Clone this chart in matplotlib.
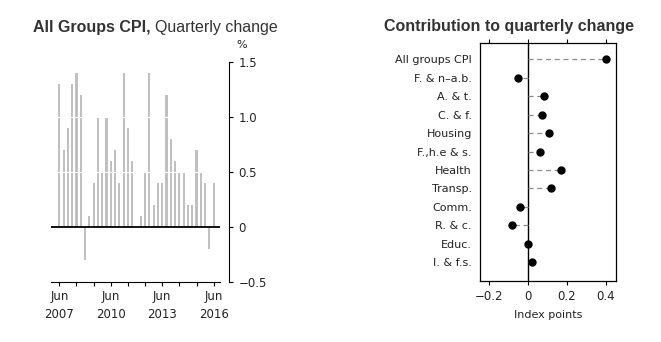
import matplotlib
matplotlib.use("Agg")
import matplotlib.pyplot as plt

# quarterly change in All Groups CPI, Jun 2007 .. Jun 2016 (%)
cpi_change = [1.3, 0.7, 0.9, 1.3, 1.4, 1.2, -0.3, 0.1, 0.4, 1.0,
              0.5, 1.0, 0.6, 0.7, 0.4, 1.4, 0.9, 0.6, 0.0, 0.1,
              0.5, 1.4, 0.2, 0.4, 0.4, 1.2, 0.8, 0.6, 0.5, 0.5,
              0.2, 0.2, 0.7, 0.5, 0.4, -0.2, 0.4]
year_ticks = [0, 4, 8, 12, 16, 20, 24, 28, 32, 36]
year_labels = ['Jun\n2007', '', '', 'Jun\n2010', '', '', 'Jun\n2013', '', '', 'Jun\n2016']

# contribution to quarterly change (index points)
groups = ['All groups CPI', 'F. & n\u2013a.b.', 'A. & t.', 'C. & f.', 'Housing',
          'F.,h.e & s.', 'Health', 'Transp.', 'Comm.', 'R. & c.', 'Educ.', 'I. & f.s.']
contrib = [0.40, -0.05, 0.08, 0.07, 0.11, 0.06, 0.17, 0.12, -0.04, -0.08, 0.0, 0.02]

W, H = 661, 342
fig = plt.figure(figsize=(W / 100, H / 100), dpi=100)
txt = '#333333'
small = dict(family='DejaVu Sans', size=8, color='#222222')

# ---- left chart ----
ax = fig.add_axes([51 / W, 1 - 282 / H, 178 / W, 220 / H])
q = list(range(len(cpi_change)))
ax.bar(q, cpi_change, width=0.5, color='#c0c0c0', zorder=2)
ax.hlines([0.5, 1.0], -1.94, 37.5, color='white', lw=0.8, zorder=3)
ax.hlines(0, -1.94, 37.5, color='black', lw=1.3, zorder=4)
ax.set_xlim(-1.94, 39.57)
ax.set_ylim(-0.5, 1.5)
for s in ['left', 'top']:
    ax.spines[s].set_visible(False)
ax.spines['bottom'].set_bounds(-1.94, 37.5)
ax.spines['right'].set_bounds(-0.5, 1.5)
ax.yaxis.tick_right()
ax.set_yticks([-0.5, 0, 0.5, 1.0, 1.5])
ax.set_yticklabels(['\u22120.5', '0', '0.5', '1.0', '1.5'])
ax.set_xticks(year_ticks)
ax.set_xticklabels(year_labels, linespacing=1.45)
ax.tick_params(axis='y', direction='out', length=3, pad=4, width=0.8)
ax.tick_params(axis='x', direction='out', length=3, pad=3, width=0.8)
for lab in ax.get_xticklabels() + ax.get_yticklabels():
    lab.set_fontfamily('DejaVu Sans')
    lab.set_fontsize(8.5)
    lab.set_color('#222222')
fig.text(241.7 / W, 1 - 45 / H, '%', ha='center', va='center', **small)

# ---- right chart ----
ax2 = fig.add_axes([480.3 / W, 1 - 280.7 / H, 136 / W, 238 / H])
rows = list(range(len(groups)))
ax2.hlines(rows, 0, contrib, color='#8c8c8c', lw=0.9, linestyle=(0, (4, 3)), zorder=2)
ax2.axvline(0, color='black', lw=1, zorder=1)
ax2.plot(contrib, rows, 'o', color='black', ms=5, zorder=3)
ax2.set_xlim(-0.245, 0.453)
ax2.set_ylim(12.0, -0.9)
ax2.set_yticks(rows)
ax2.set_yticklabels(groups)
ax2.set_xticks([-0.2, 0, 0.2, 0.4])
ax2.set_xticklabels(['\u22120.2', '0', '0.2', '0.4'])
ax2.tick_params(axis='y', length=0, pad=6)
ax2.tick_params(axis='x', direction='out', length=3, pad=4, width=0.8, top=True)
for lab in ax2.get_yticklabels():
    lab.set_fontfamily('DejaVu Sans')
    lab.set_fontsize(8)
    lab.set_color('#222222')
for lab in ax2.get_xticklabels():
    lab.set_fontfamily('DejaVu Sans')
    lab.set_fontsize(8.5)
    lab.set_color('#222222')
ax2.set_xlabel('Index points', labelpad=5, **small)
for s in ax2.spines.values():
    s.set_linewidth(0.9)

# ---- titles ----
t1 = fig.text(33 / W, 1 - 31.7 / H, 'All Groups CPI,', ha='left', va='baseline',
              family='Liberation Sans', weight='bold', size=11.5, color=txt)
r = fig.canvas.get_renderer()
bb = t1.get_window_extent(r)
fig.text(bb.x1 / W + 4 / W, 1 - 31.7 / H, 'Quarterly change', ha='left', va='baseline',
         family='Liberation Sans', size=11.5, color=txt)
fig.text(384 / W, 1 - 30.7 / H, 'Contribution to quarterly change', ha='left', va='baseline',
         family='Liberation Sans', weight='bold', size=11.5, color=txt)

fig.savefig('out.png', dpi=100)
